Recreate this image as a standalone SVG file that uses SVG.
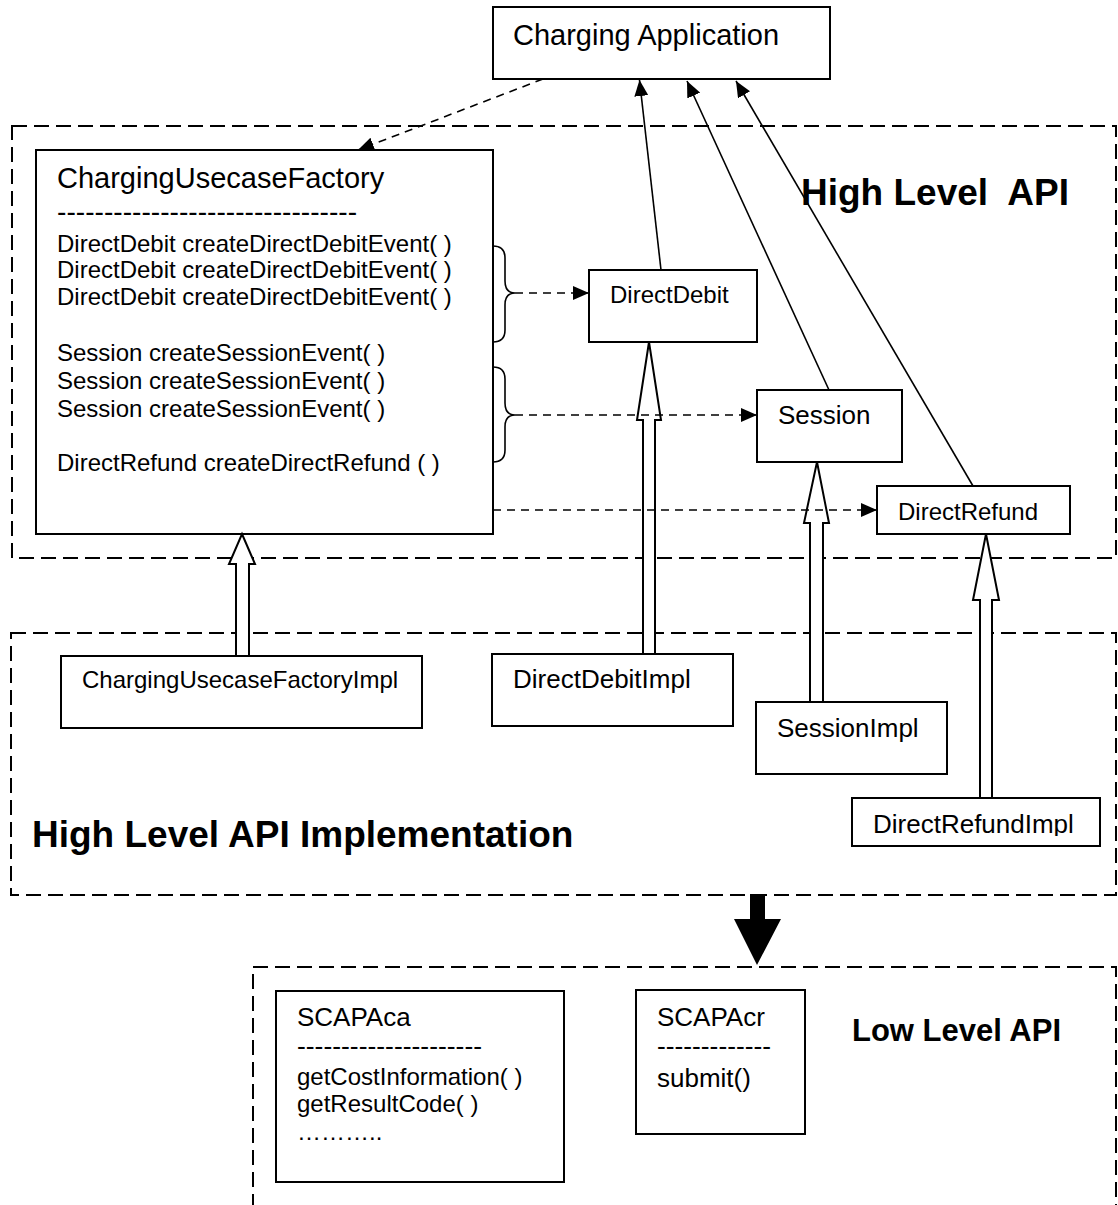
<svg xmlns="http://www.w3.org/2000/svg" width="1118" height="1205" viewBox="0 0 1118 1205">
  <style>
    .box { fill: #fff; stroke: #000; stroke-width: 2; }
    .region { fill: none; stroke: #000; stroke-width: 2; stroke-dasharray: 15 7; }
    .dep { fill: none; stroke: #000; stroke-width: 1.6; stroke-dasharray: 8 6; }
    .assoc { fill: none; stroke: #000; stroke-width: 1.6; }
    .brace { fill: none; stroke: #000; stroke-width: 1.6; }
    .realize { fill: #fff; stroke: #000; stroke-width: 2; stroke-linejoin: miter; }
    .flow { fill: #000; stroke: none; }
    .t { font-family: "Liberation Sans", Arial, Helvetica, sans-serif; fill: #000; }
    .b { font-weight: bold; }
  </style>
  <defs>
    <marker id="head" markerUnits="userSpaceOnUse" markerWidth="16" markerHeight="14" refX="16" refY="7" orient="auto">
      <path d="M0,0 L16,7 L0,14 Z" fill="#000"/>
    </marker>
    <clipPath id="refundImplClip">
      <rect x="852" y="798" width="248" height="38"/>
    </clipPath>
  </defs>

  <rect width="1118" height="1205" fill="#fff"/>

  <!-- package regions -->
  <g id="high-level-api">
    <rect class="region" x="12" y="126" width="1104" height="432"/>
    <text class="t b" x="801" y="205" font-size="37" xml:space="preserve">High Level  API</text>
  </g>
  <g id="high-level-api-impl">
    <rect class="region" x="11" y="633" width="1105" height="262"/>
    <text class="t b" x="32" y="847" font-size="37">High Level API Implementation</text>
  </g>
  <g id="low-level-api">
    <rect class="region" x="253" y="967" width="863" height="270"/>
    <text class="t b" x="852" y="1041" font-size="31">Low Level API</text>
  </g>

  <!-- classes -->
  <g id="charging-application">
    <rect class="box" x="493" y="7" width="337" height="72"/>
    <text class="t" x="513" y="45" font-size="29">Charging Application</text>
  </g>

  <g id="charging-usecase-factory">
    <rect class="box" x="36" y="150" width="457" height="384"/>
    <text class="t" x="57" y="188" font-size="29">ChargingUsecaseFactory</text>
    <text class="t" x="57" y="221" font-size="28" textLength="300" lengthAdjust="spacingAndGlyphs">--------------------------------</text>
    <text class="t" x="57" y="252" font-size="24">DirectDebit createDirectDebitEvent( )</text>
    <text class="t" x="57" y="278" font-size="24">DirectDebit createDirectDebitEvent( )</text>
    <text class="t" x="57" y="305" font-size="24">DirectDebit createDirectDebitEvent( )</text>
    <text class="t" x="57" y="361" font-size="24">Session createSessionEvent( )</text>
    <text class="t" x="57" y="389" font-size="24">Session createSessionEvent( )</text>
    <text class="t" x="57" y="417" font-size="24">Session createSessionEvent( )</text>
    <text class="t" x="57" y="471" font-size="24">DirectRefund createDirectRefund ( )</text>
  </g>

  <g id="direct-debit">
    <rect class="box" x="589" y="270" width="168" height="72"/>
    <text class="t" x="610" y="303" font-size="24">DirectDebit</text>
  </g>

  <g id="session">
    <rect class="box" x="757" y="390" width="145" height="72"/>
    <text class="t" x="778" y="424" font-size="26">Session</text>
  </g>

  <g id="direct-refund">
    <rect class="box" x="877" y="486" width="193" height="48"/>
    <text class="t" x="898" y="520" font-size="24">DirectRefund</text>
  </g>

  <g id="charging-usecase-factory-impl">
    <rect class="box" x="61" y="656" width="361" height="72"/>
    <text class="t" x="82" y="688" font-size="24">ChargingUsecaseFactoryImpl</text>
  </g>

  <g id="direct-debit-impl">
    <rect class="box" x="492" y="654" width="241" height="72"/>
    <text class="t" x="513" y="688" font-size="26">DirectDebitImpl</text>
  </g>

  <g id="session-impl">
    <rect class="box" x="756" y="702" width="191" height="72"/>
    <text class="t" x="777" y="737" font-size="26">SessionImpl</text>
  </g>

  <g id="direct-refund-impl">
    <rect class="box" x="852" y="798" width="248" height="48"/>
    <text class="t" x="873" y="833" font-size="26" clip-path="url(#refundImplClip)">DirectRefundImpl</text>
  </g>

  <g id="scapaca">
    <rect class="box" x="276" y="991" width="288" height="191"/>
    <text class="t" x="297" y="1026" font-size="26">SCAPAca</text>
    <text class="t" x="297" y="1055" font-size="26" textLength="185" lengthAdjust="spacingAndGlyphs">---------------------</text>
    <text class="t" x="297" y="1085" font-size="24">getCostInformation( )</text>
    <text class="t" x="297" y="1112" font-size="24">getResultCode( )</text>
    <text class="t" x="297" y="1140" font-size="24">………..</text>
  </g>

  <g id="scapacr">
    <rect class="box" x="636" y="990" width="169" height="144"/>
    <text class="t" x="657" y="1026" font-size="26">SCAPAcr</text>
    <text class="t" x="657" y="1055" font-size="26" textLength="114" lengthAdjust="spacingAndGlyphs">-------------</text>
    <text class="t" x="657" y="1087" font-size="26">submit()</text>
  </g>

  <!-- connectors -->
  <g id="connectors">
    <!-- realization arrows (hollow block arrows) -->
    <path class="realize" d="M242,534 L255,564 L249,564 L249,656 L236,656 L236,564 L229,564 Z"/>
    <path class="realize" d="M649,342 L661,420 L655,420 L655,654 L643,654 L643,420 L637,420 Z"/>
    <path class="realize" d="M817,462 L829,523 L823,523 L823,702 L810,702 L810,523 L804,523 Z"/>
    <path class="realize" d="M986,534 L999,600 L992,600 L992,798 L980,798 L980,600 L973,600 Z"/>

    <!-- usage from the application -->
    <line class="assoc" x1="661" y1="270" x2="639.5" y2="80" marker-end="url(#head)"/>
    <line class="assoc" x1="829" y1="390" x2="687" y2="81" marker-end="url(#head)"/>
    <line class="assoc" x1="973" y1="486" x2="736" y2="81" marker-end="url(#head)"/>
    <line class="dep" x1="543" y1="79" x2="358" y2="150" marker-end="url(#head)"/>

    <!-- factory method groups -->
    <path class="brace" d="M493,246 Q505,246 505,258 L505,281 Q505,293 515,293 Q505,293 505,305 L505,330 Q505,342 493,342"/>
    <path class="brace" d="M493,367 Q505,367 505,379 L505,403 Q505,415 515,415 Q505,415 505,427 L505,450 Q505,462 493,462"/>
    <line class="dep" x1="515" y1="293" x2="589" y2="293" marker-end="url(#head)"/>
    <line class="dep" x1="515" y1="415" x2="757" y2="415" marker-end="url(#head)"/>
    <line class="dep" x1="493" y1="510" x2="877" y2="510" marker-end="url(#head)"/>

    <!-- implementation layer uses the low level API -->
    <path class="flow" d="M750,894 L765,894 L765,919 L781,919 L757,965 L734,919 L750,919 Z"/>
  </g>
</svg>
